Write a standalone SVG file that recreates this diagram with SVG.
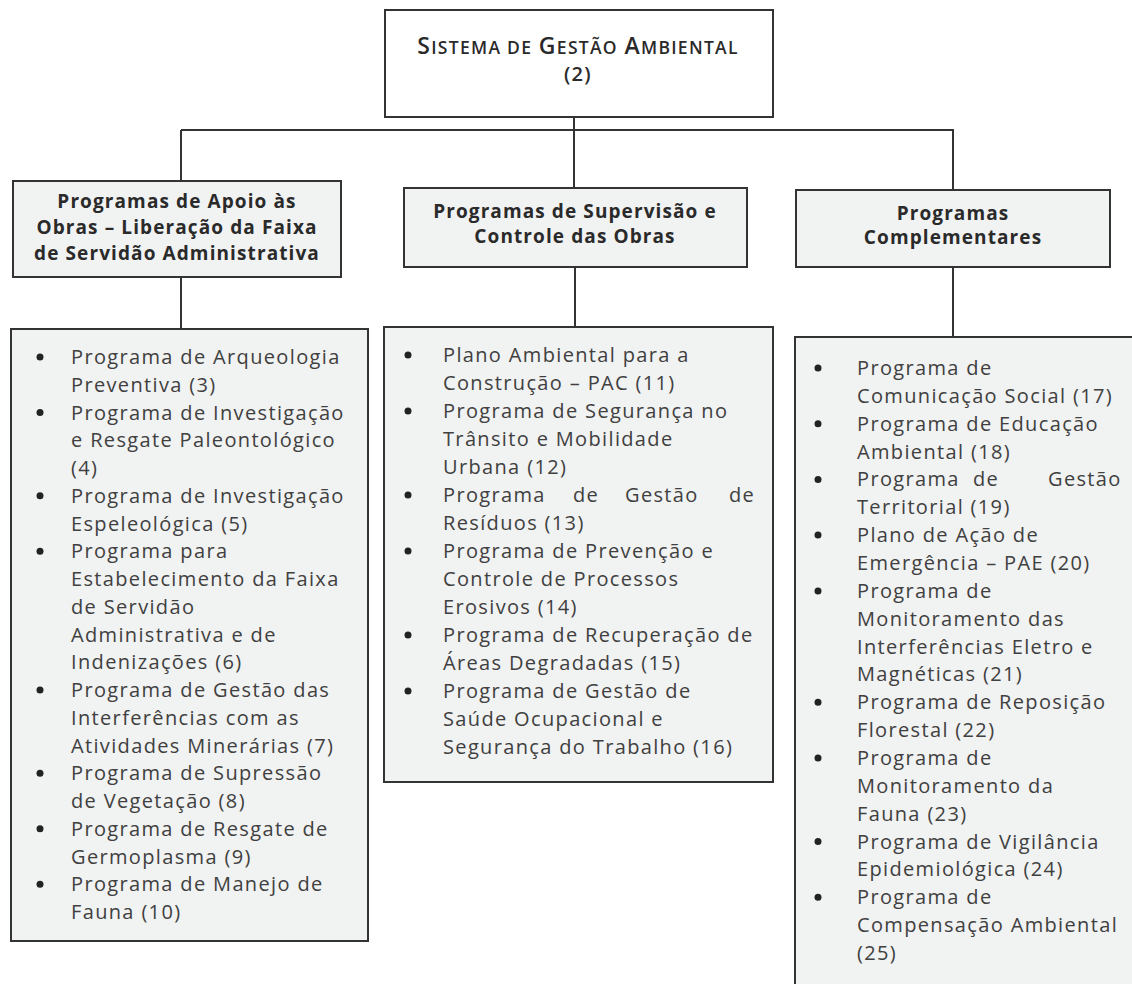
<svg xmlns="http://www.w3.org/2000/svg" width="1132" height="984" viewBox="0 0 1132 984">
<style>
.box{fill:#f1f2f2;stroke:#333;stroke-width:2}
.top{fill:#fff;stroke:#333;stroke-width:2}
.ln{stroke:#333;stroke-width:2;fill:none}
.hd{font-family:"Open Sans","Noto Sans",sans-serif;font-weight:700;font-size:19px;letter-spacing:1.1px;fill:#2a2a2a;text-anchor:middle}
.li{font-family:"Open Sans","Noto Sans",sans-serif;font-weight:400;font-size:20px;letter-spacing:1.35px;fill:#404040}
.ti{font-family:"Open Sans","Noto Sans",sans-serif;font-weight:600;letter-spacing:1.3px;fill:#2a2a2a;text-anchor:middle}
.bu{fill:#222}
</style>
<rect width="1132" height="984" fill="#fff"/>
<g id="connectors">
<path class="ln" d="M574 117V188"/>
<path class="ln" d="M181 130H954"/>
<path class="ln" d="M181 130V181"/>
<path class="ln" d="M953 130V190"/>
<path class="ln" d="M181 277V329"/>
<path class="ln" d="M575 267V327"/>
<path class="ln" d="M953 267V337"/>
</g>
<g id="sga">
<rect class="top" x="385" y="10" width="388" height="107"/>
<text class="ti" x="578" y="54"><tspan font-size="23">S</tspan><tspan font-size="17.5">ISTEMA DE</tspan><tspan font-size="20"> </tspan><tspan font-size="23">G</tspan><tspan font-size="17.5">ESTÃO</tspan><tspan font-size="20"> </tspan><tspan font-size="23">A</tspan><tspan font-size="17.5">MBIENTAL</tspan></text>
<text class="ti" x="578" y="81" font-size="20">(2)</text>
</g>
<g id="apoio-header">
<rect class="box" x="13" y="181" width="328" height="96"/>
<text class="hd" x="177" y="208">Programas de Apoio às</text>
<text class="hd" x="177" y="234">Obras – Liberação da Faixa</text>
<text class="hd" x="177" y="260">de Servidão Administrativa</text>
</g>
<g id="supervisao-header">
<rect class="box" x="404" y="188" width="343" height="79"/>
<text class="hd" x="575" y="218">Programas de Supervisão e</text>
<text class="hd" x="575" y="243">Controle das Obras</text>
</g>
<g id="complementares-header">
<rect class="box" x="796" y="190" width="314" height="77"/>
<text class="hd" x="953" y="220">Programas</text>
<text class="hd" x="953" y="244">Complementares</text>
</g>
<g id="apoio-list">
<rect class="box" x="11" y="329" width="357" height="612"/>
<g class="li">
<text x="71" y="364">Programa de Arqueologia</text>
<text x="71" y="391.75">Preventiva (3)</text>
<text x="71" y="419.5">Programa de Investigação</text>
<text x="71" y="447.25">e Resgate Paleontológico</text>
<text x="71" y="475">(4)</text>
<text x="71" y="502.75">Programa de Investigação</text>
<text x="71" y="530.5">Espeleológica (5)</text>
<text x="71" y="558.25">Programa para</text>
<text x="71" y="586">Estabelecimento da Faixa</text>
<text x="71" y="613.75">de Servidão</text>
<text x="71" y="641.5">Administrativa e de</text>
<text x="71" y="669.25">Indenizações (6)</text>
<text x="71" y="697">Programa de Gestão das</text>
<text x="71" y="724.75">Interferências com as</text>
<text x="71" y="752.5">Atividades Minerárias (7)</text>
<text x="71" y="780.25">Programa de Supressão</text>
<text x="71" y="808">de Vegetação (8)</text>
<text x="71" y="835.75">Programa de Resgate de</text>
<text x="71" y="863.5">Germoplasma (9)</text>
<text x="71" y="891.25">Programa de Manejo de</text>
<text x="71" y="919">Fauna (10)</text>
</g>
<g class="bu">
<circle cx="40" cy="357" r="3.5"/>
<circle cx="40" cy="412.5" r="3.5"/>
<circle cx="40" cy="495.75" r="3.5"/>
<circle cx="40" cy="551.25" r="3.5"/>
<circle cx="40" cy="690" r="3.5"/>
<circle cx="40" cy="773.25" r="3.5"/>
<circle cx="40" cy="828.75" r="3.5"/>
<circle cx="40" cy="884.25" r="3.5"/>
</g>
</g>
<g id="supervisao-list">
<rect class="box" x="384" y="327" width="389" height="455"/>
<g class="li">
<text x="443" y="362">Plano Ambiental para a</text>
<text x="443" y="390">Construção – PAC (11)</text>
<text x="443" y="418">Programa de Segurança no</text>
<text x="443" y="446">Trânsito e Mobilidade</text>
<text x="443" y="474">Urbana (12)</text>
<text y="502"><tspan x="443">Programa</tspan><tspan x="573">de</tspan><tspan x="625">Gestão</tspan><tspan x="729">de</tspan></text>
<text x="443" y="530">Resíduos (13)</text>
<text x="443" y="558">Programa de Prevenção e</text>
<text x="443" y="586">Controle de Processos</text>
<text x="443" y="614">Erosivos (14)</text>
<text x="443" y="642">Programa de Recuperação de</text>
<text x="443" y="670">Áreas Degradadas (15)</text>
<text x="443" y="698">Programa de Gestão de</text>
<text x="443" y="726">Saúde Ocupacional e</text>
<text x="443" y="754">Segurança do Trabalho (16)</text>
</g>
<g class="bu">
<circle cx="408" cy="355" r="3.5"/>
<circle cx="408" cy="411" r="3.5"/>
<circle cx="408" cy="495" r="3.5"/>
<circle cx="408" cy="551" r="3.5"/>
<circle cx="408" cy="635" r="3.5"/>
<circle cx="408" cy="691" r="3.5"/>
</g>
</g>
<g id="complementares-list">
<rect class="box" x="795" y="337" width="345" height="660"/>
<g class="li">
<text x="857" y="375">Programa de</text>
<text x="857" y="402.86">Comunicação Social (17)</text>
<text x="857" y="430.71">Programa de Educação</text>
<text x="857" y="458.57">Ambiental (18)</text>
<text y="486.43"><tspan x="857">Programa</tspan><tspan x="973">de</tspan><tspan x="1048">Gestão</tspan></text>
<text x="857" y="514.29">Territorial (19)</text>
<text x="857" y="542.14">Plano de Ação de</text>
<text x="857" y="570">Emergência – PAE (20)</text>
<text x="857" y="597.86">Programa de</text>
<text x="857" y="625.71">Monitoramento das</text>
<text x="857" y="653.57">Interferências Eletro e</text>
<text x="857" y="681.43">Magnéticas  (21)</text>
<text x="857" y="709.29">Programa de Reposição</text>
<text x="857" y="737.14">Florestal (22)</text>
<text x="857" y="765">Programa de</text>
<text x="857" y="792.86">Monitoramento da</text>
<text x="857" y="820.71">Fauna (23)</text>
<text x="857" y="848.57">Programa de Vigilância</text>
<text x="857" y="876.43">Epidemiológica (24)</text>
<text x="857" y="904.29">Programa de</text>
<text x="857" y="932.14">Compensação Ambiental</text>
<text x="857" y="960">(25)</text>
</g>
<g class="bu">
<circle cx="818" cy="368" r="3.5"/>
<circle cx="818" cy="423.7" r="3.5"/>
<circle cx="818" cy="479.4" r="3.5"/>
<circle cx="818" cy="535.1" r="3.5"/>
<circle cx="818" cy="590.9" r="3.5"/>
<circle cx="818" cy="702.3" r="3.5"/>
<circle cx="818" cy="758" r="3.5"/>
<circle cx="818" cy="841.6" r="3.5"/>
<circle cx="818" cy="897.3" r="3.5"/>
</g>
</g>
</svg>
